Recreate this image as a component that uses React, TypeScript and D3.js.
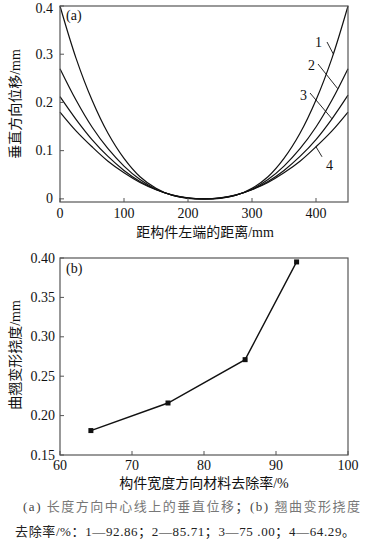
import React from "react";
import * as d3 from "d3";

// (a) vertical displacement along the centre line
const posX = [0, 25, 50, 75, 100, 125, 150, 175, 200, 225, 250, 275, 300, 325, 350, 375, 400, 425, 450];
const curve1 = [0.4, 0.292, 0.205, 0.136, 0.084, 0.046, 0.022, 0.0074, 0.0012, 0, 0.0012, 0.0074, 0.022, 0.046, 0.084, 0.136, 0.205, 0.292, 0.4];
const curve2 = [0.27, 0.205, 0.149, 0.104, 0.068, 0.04, 0.02, 0.0078, 0.0015, 0, 0.0015, 0.0078, 0.02, 0.04, 0.068, 0.104, 0.149, 0.205, 0.27];
const curve3 = [0.212, 0.165, 0.123, 0.088, 0.059, 0.036, 0.0195, 0.0081, 0.0018, 0, 0.0018, 0.0081, 0.0195, 0.036, 0.059, 0.088, 0.123, 0.166, 0.215];
const curve4 = [0.18, 0.141, 0.108, 0.078, 0.054, 0.034, 0.019, 0.0083, 0.002, 0, 0.002, 0.0083, 0.019, 0.034, 0.054, 0.078, 0.108, 0.141, 0.18];
const curveNames = ["1", "2", "3", "4"];
const ticksAX = [0, 100, 200, 300, 400];
const ticksAY = [0, 0.1, 0.2, 0.3, 0.4];

// (b) warping deflection vs removal rate
const removal = [64.29, 75.0, 85.71, 92.86];
const deflection = [0.181, 0.216, 0.271, 0.395];
const ticksBX = [60, 70, 80, 90, 100];
const ticksBY = [0.15, 0.2, 0.25, 0.3, 0.35, 0.4];

const NUM_FONT = "'Liberation Serif', 'DejaVu Serif', serif";
const CJK_FONT = "'Liberation Serif', 'Noto Sans CJK SC', serif";
const FRAME = "#555";

const xA = d3.scaleLinear().domain([0, 450]).range([60, 348]);
const yA = d3.scaleLinear().domain([-0.0065, 0.4]).range([202, 6]);
const xB = d3.scaleLinear().domain([60, 100]).range([60, 348]);
const yB = d3.scaleLinear().domain([0.15, 0.4]).range([455, 258]);

const lineA = d3
  .line<number>()
  .x((_, i) => xA(posX[i]))
  .y((d) => yA(d))
  .curve(d3.curveCatmullRom);

const lineB = d3
  .line<number>()
  .x((_, i) => xB(removal[i]))
  .y((d) => yB(d));

const Frame = ({ x, y }: { x: d3.ScaleLinear<number, number>; y: d3.ScaleLinear<number, number> }) => {
  const [x0, x1] = x.range();
  const [y0, y1] = y.range();
  return (
    <rect x={x0} y={y1} width={x1 - x0} height={y0 - y1} fill="none" stroke={FRAME} strokeWidth={1.2} />
  );
};

export default function App() {
  const curves = [curve1, curve2, curve3, curve4];
  // label positions for curve numbers (leader from text to curve)
  const leaders = [
    { tx: 315, ty: 47, x1: 327, y1: 42, xv: 427 },
    { tx: 308, ty: 70, x1: 318, y1: 64, xv: 434 },
    { tx: 300, ty: 100, x1: 310, y1: 93, xv: 425 },
    { tx: 326, ty: 170, x1: 316, y1: 150, xv: 400 },
  ];
  return (
    <svg
      width={367}
      height={543}
      style={{ position: "absolute", left: 0, top: 0, background: "#fff" }}
    >
      {/* ---------- chart (a) ---------- */}
      <g>
        {curves.map((c, i) => (
          <path key={i} d={lineA(c) || ""} fill="none" stroke="#111" strokeWidth={1.2} />
        ))}
        {leaders.map((l, i) => {
          const c = curves[i];
          const j = d3.bisectLeft(posX, l.xv);
          const t = (l.xv - posX[j - 1]) / (posX[j] - posX[j - 1]);
          const v = c[j - 1] + t * (c[j] - c[j - 1]);
          const x2 = xA(l.xv);
          const y2 = yA(v);
          return (
            <g key={i}>
              <line
                x1={i === 3 ? x2 + 6 : l.x1}
                y1={i === 3 ? y2 + 10 : l.y1}
                x2={x2}
                y2={y2}
                stroke="#111"
                strokeWidth={0.9}
              />
              <text x={l.tx} y={l.ty} fontFamily={NUM_FONT} fontSize={14} fill="#111">
                {curveNames[i]}
              </text>
            </g>
          );
        })}
        <Frame x={xA} y={yA} />
        {ticksAX.map((t) => (
          <g key={t}>
            <line x1={xA(t)} x2={xA(t)} y1={202} y2={198} stroke={FRAME} />
            <text x={xA(t)} y={218} textAnchor="middle" fontFamily={NUM_FONT} fontSize={14} fill="#111">
              {t}
            </text>
          </g>
        ))}
        {ticksAY.map((t) => (
          <g key={t}>
            <line x1={60} x2={64} y1={yA(t)} y2={yA(t)} stroke={FRAME} />
            <text
              x={53}
              y={Math.max(yA(t) + 4.5, 13)}
              textAnchor="end"
              fontFamily={NUM_FONT}
              fontSize={14}
              fill="#111"
            >
              {t}
            </text>
          </g>
        ))}
        <text x={66} y={20} fontFamily={NUM_FONT} fontSize={14} fill="#111">
          (a)
        </text>
        <text x={205} y={237} textAnchor="middle" fontFamily={CJK_FONT} fontSize={14} fill="#111">
          距构件左端的距离/mm
        </text>
        <text
          transform="translate(20,104) rotate(-90)"
          textAnchor="middle"
          fontFamily={CJK_FONT}
          fontSize={14}
          fill="#111"
        >
          垂直方向位移/mm
        </text>
      </g>

      {/* ---------- chart (b) ---------- */}
      <g>
        <path d={lineB(deflection) || ""} fill="none" stroke="#111" strokeWidth={1.4} />
        {deflection.map((d, i) => (
          <rect key={i} x={xB(removal[i]) - 2.5} y={yB(d) - 2.5} width={5} height={5} fill="#111" />
        ))}
        <Frame x={xB} y={yB} />
        {ticksBX.map((t) => (
          <g key={t}>
            <line x1={xB(t)} x2={xB(t)} y1={455} y2={451} stroke={FRAME} />
            <text x={xB(t)} y={470} textAnchor="middle" fontFamily={NUM_FONT} fontSize={14} fill="#111">
              {t}
            </text>
          </g>
        ))}
        {ticksBY.map((t) => (
          <g key={t}>
            <line x1={60} x2={64} y1={yB(t)} y2={yB(t)} stroke={FRAME} />
            <text x={55} y={yB(t) + 4.5} textAnchor="end" fontFamily={NUM_FONT} fontSize={14} fill="#111">
              {t.toFixed(2)}
            </text>
          </g>
        ))}
        <text x={66} y={273} fontFamily={NUM_FONT} fontSize={14} fill="#111">
          (b)
        </text>
        <text x={204} y={488} textAnchor="middle" fontFamily={CJK_FONT} fontSize={14} fill="#111">
          构件宽度方向材料去除率/%
        </text>
        <text
          transform="translate(20,355) rotate(-90)"
          textAnchor="middle"
          fontFamily={CJK_FONT}
          fontSize={14}
          fill="#111"
        >
          曲翘变形挠度/mm
        </text>
      </g>

      {/* ---------- caption ---------- */}
      <text
        x={23}
        y={511}
        fontFamily={CJK_FONT}
        fontSize={13}
        fill="#444"
        textLength={337}
        lengthAdjust="spacing"
      >
        <tspan>(a) </tspan>
        <tspan fill="#777">长度方向中心线上的垂直位移</tspan>
        <tspan>；(b) </tspan>
        <tspan fill="#777">翘曲变形挠度</tspan>
      </text>
      <text
        x={15}
        y={536}
        fontFamily={CJK_FONT}
        fontSize={13}
        fill="#222"
        textLength={340}
        lengthAdjust="spacing"
      >
        去除率/%：1—92.86；2—85.71；3—75 .00；4—64.29。
      </text>
    </svg>
  );
}
